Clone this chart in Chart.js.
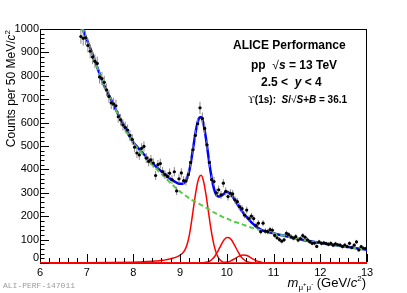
<!DOCTYPE html>
<html>
<head>
<meta charset="utf-8">
<script src="https://cdn.jsdelivr.net/npm/chart.js@4.4.0/dist/chart.umd.min.js"></script>
<style>
    html, body { margin: 0; padding: 0; background: #fff; }
    #wrap { width: 407px; height: 293px; }
</style>
</head>
<body>
<div id="wrap"><canvas id="massChart" width="407" height="293"></canvas></div>
<script>
// Dimuon invariant mass spectrum in the Upsilon region, pp at 13 TeV

// data points, 50 MeV bins
const massBins = [
    6.875, 6.925, 6.975, 7.025, 7.075, 7.125, 7.175, 7.225, 7.275, 7.325,
    7.375, 7.425, 7.475, 7.525, 7.575, 7.625, 7.675, 7.725, 7.775, 7.825,
    7.875, 7.925, 7.975, 8.025, 8.075, 8.125, 8.175, 8.225, 8.275, 8.325,
    8.375, 8.425, 8.475, 8.525, 8.575, 8.625, 8.675, 8.725, 8.775, 8.825,
    8.875, 8.925, 8.975, 9.025, 9.075, 9.125, 9.175, 9.225, 9.275, 9.325,
    9.375, 9.425, 9.475, 9.525, 9.575, 9.625, 9.675, 9.725, 9.775, 9.825,
    9.875, 9.925, 9.975, 10.025, 10.075, 10.125, 10.175, 10.225, 10.275, 10.325,
    10.375, 10.425, 10.475, 10.525, 10.575, 10.625, 10.675, 10.725, 10.775, 10.825,
    10.875, 10.925, 10.975, 11.025, 11.075, 11.125, 11.175, 11.225, 11.275, 11.325,
    11.375, 11.425, 11.475, 11.525, 11.575, 11.625, 11.675, 11.725, 11.775, 11.825,
    11.875, 11.925, 11.975, 12.025, 12.075, 12.125, 12.175, 12.225, 12.275, 12.325,
    12.375, 12.425, 12.475, 12.525, 12.575, 12.625, 12.675, 12.725, 12.775, 12.825,
    12.875, 12.925, 12.975
];
const counts = [
    968, 960, 962, 930, 905, 880, 862, 853, 795, 788,
    772, 740, 712, 684, 680, 672, 625, 612, 590, 580,
    568, 545, 528, 495, 470, 462, 490, 498, 448, 434,
    441, 427, 374, 420, 425, 391, 378, 370, 384, 356,
    390, 308, 360, 385, 352, 350, 378, 430, 484, 545,
    595, 663, 618, 575, 505, 430, 356, 348, 300, 313,
    291, 341, 306, 284, 298, 295, 270, 262, 241, 232,
    205, 226, 190, 200, 190, 160, 170, 134, 170, 136,
    134, 143, 140, 118, 108, 100, 93, 99, 127, 121,
    112, 106, 113, 98, 104, 117, 110, 99, 91, 84,
    85, 71, 90, 84, 86, 83, 80, 84, 76, 82,
    78, 76, 70, 77, 70, 84, 66, 76, 90, 56,
    70, 63, 62
];
const countErrors = [
    31, 31, 31, 30, 30, 30, 29, 29, 28, 28,
    28, 27, 27, 26, 26, 26, 25, 25, 24, 24,
    24, 23, 23, 22, 22, 21, 22, 22, 21, 21,
    21, 21, 19, 20, 21, 20, 19, 19, 20, 19,
    20, 18, 19, 20, 19, 19, 19, 21, 22, 23,
    24, 26, 25, 24, 22, 21, 19, 19, 17, 18,
    17, 18, 17, 17, 17, 17, 16, 16, 16, 15,
    14, 15, 14, 14, 14, 13, 13, 12, 13, 12,
    12, 12, 12, 11, 10, 10, 10, 10, 11, 11,
    11, 10, 11, 10, 10, 11, 10, 10, 10, 9,
    9, 8, 9, 9, 9, 9, 9, 9, 9, 9,
    9, 9, 8, 9, 8, 9, 8, 9, 9, 7,
    8, 8, 8
];

// total fit and background
const fitMass = [
    6.9, 7.0, 7.1, 7.2, 7.3, 7.4, 7.5, 7.6, 7.7, 7.8, 7.9, 8.0, 8.1, 8.2, 8.3, 8.4,
    8.5, 8.55, 8.6, 8.65, 8.7, 8.75, 8.8, 8.85, 8.9, 8.95,
    9.0, 9.05, 9.1, 9.15, 9.2, 9.25, 9.3, 9.35, 9.4, 9.45,
    9.5, 9.55, 9.6, 9.65, 9.7, 9.75, 9.8, 9.85, 9.9, 9.95,
    10.0, 10.05, 10.1, 10.15, 10.2, 10.25, 10.3, 10.35, 10.4, 10.45,
    10.5, 10.55, 10.6, 10.65, 10.7, 10.75, 10.8,
    10.9, 11.0, 11.1, 11.2, 11.3, 11.4, 11.5, 11.6, 11.7, 11.8,
    11.9, 12.0, 12.1, 12.2, 12.3, 12.4, 12.5, 12.6, 12.7, 12.8, 12.9, 13.0
];
const fitTotal = [
    1006, 956, 906, 851, 795, 747, 707, 665, 624, 586, 548, 515, 492, 470, 448, 427,
    409, 400, 391, 383, 376, 367, 358, 352, 346, 341,
    339, 339, 345, 363, 398, 455, 520, 579, 617, 624,
    595, 536, 463, 393, 338, 301, 286, 284, 290, 298,
    304, 299, 290, 275, 259, 243, 228, 215, 202, 191,
    179, 169, 160, 152, 146, 140, 137,
    131, 127, 122, 118, 113, 109, 104, 100, 96, 93,
    89, 86, 83, 80, 77, 74, 71, 68, 65, 62, 60, 57
];
const fitBackground = [
    1005, 955, 905, 850, 793, 745, 705, 663, 622, 583, 545, 512, 488, 465, 442, 420,
    400, 390, 380, 371, 362, 351, 340, 331, 322, 313,
    305, 297, 290, 283, 276, 270, 264, 259, 254, 248,
    243, 237, 231, 225, 219, 213, 208, 203, 198, 193,
    190, 185, 181, 177, 174, 171, 168, 164, 160, 157,
    153, 150, 147, 144, 141, 138, 136,
    131, 127, 122, 118, 113, 109, 104, 100, 96, 93,
    89, 86, 83, 80, 77, 74, 71, 68, 65, 62, 60, 57
];

// the three Upsilon signal shapes
const signalMass = [
    6.0, 7.0, 8.0, 8.1, 8.2, 8.3, 8.4,
    8.5, 8.55, 8.6, 8.65, 8.7, 8.75, 8.8, 8.85, 8.9, 8.95,
    9.0, 9.05, 9.1, 9.15, 9.2, 9.25, 9.3, 9.35, 9.4, 9.45,
    9.5, 9.55, 9.6, 9.65, 9.7, 9.75, 9.8, 9.85, 9.9, 9.95,
    10.0, 10.05, 10.1, 10.15, 10.2, 10.25, 10.3, 10.35, 10.4, 10.45,
    10.5, 10.55, 10.6, 10.65, 10.7, 10.75, 10.8,
    11.0, 12.0, 13.0
];
const upsilon1S = [
    0, 1, 3.5, 4, 5, 6, 7,
    9, 10, 11, 12, 14, 16, 18, 21, 24, 28,
    34, 42, 55, 80, 122, 185, 256, 320, 363, 375,
    350, 296, 227, 158, 100, 57, 30, 14, 6, 2,
    1, 0, 0, 0, 0, 0, 0, 0, 0, 0,
    0, 0, 0, 0, 0, 0, 0,
    0, 0, 0
];
const upsilon2S = [
    0, 0, 0, 0, 0, 0, 0,
    0, 0, 0, 0, 0, 0, 0, 0, 0, 0,
    0, 0, 0, 0, 0, 0, 0, 0, 0, 1,
    1.5, 3, 5, 10, 19, 31, 48, 67, 86, 101,
    109, 108, 98, 82, 63, 44, 28, 17, 9, 4.5,
    2, 1, 0.3, 0, 0, 0, 0,
    0, 0, 0
];
const upsilon3S = [
    0, 0, 0, 0, 0, 0, 0,
    0, 0, 0, 0, 0, 0, 0, 0, 0, 0,
    0, 0, 0, 0, 0, 0, 0, 0, 0, 0,
    0, 0, 0, 0, 0, 0, 0, 0, 0, 2,
    4, 6, 11, 16, 22, 28, 32, 34, 33, 30,
    24, 18, 13, 8, 5, 2.5, 1,
    0, 0, 0
];

const xTicks = [6, 7, 8, 9, 10, 11, 12, 13];
const yTicks = [0, 100, 200, 300, 400, 500, 600, 700, 800, 900, 1000];

const SANS = '"Liberation Sans", Arial, sans-serif';

function toPoints(xs, ys) {
    return xs.map((x, i) => ({ x: x, y: ys[i] }));
}

// draws a run of differently styled text pieces on one baseline
function drawRich(ctx, parts, x, y, align) {
    let total = 0;
    parts.forEach(p => {
        ctx.font = p.font;
        p.w = ctx.measureText(p.t).width;
        total += p.w;
    });
    let cx = align === 'right' ? x - total : x;
    parts.forEach(p => {
        ctx.font = p.font;
        ctx.fillText(p.t, cx, y + (p.dy || 0));
        cx += p.w;
    });
}

// ROOT-like frame, drawn under the curves
const rootFrame = {
    id: 'rootFrame',
    beforeDatasetsDraw(chart) {
        const { ctx, chartArea: a } = chart;
        ctx.save();
        ctx.strokeStyle = '#000';
        ctx.lineWidth = 1;
        ctx.strokeRect(a.left + 0.5, a.top + 0.5, a.right - a.left - 1, a.bottom - a.top);
        ctx.restore();
    },
    afterDraw(chart) {
        const { ctx, chartArea: a, scales: { x, y } } = chart;
        ctx.save();
        ctx.strokeStyle = '#000';
        ctx.lineWidth = 1;

        // inward ticks
        ctx.beginPath();
        for (let v = 0; v <= 1000; v += 20) {
            const py = Math.round(y.getPixelForValue(v)) + 0.5;
            const len = v % 100 === 0 ? 9 : 4.5;
            ctx.moveTo(a.left, py);
            ctx.lineTo(a.left + len, py);
        }
        for (let k = 0; k <= 35; k++) {
            const v = 6 + k * 0.2;
            const px = Math.round(x.getPixelForValue(v)) + 0.5;
            const len = k % 5 === 0 ? 8 : 4;
            ctx.moveTo(px, a.bottom - 1);
            ctx.lineTo(px, a.bottom - 1 - len);
        }
        ctx.stroke();

        // tick labels
        ctx.fillStyle = '#000';
        ctx.font = '11px ' + SANS;
        ctx.textAlign = 'right';
        ctx.textBaseline = 'middle';
        yTicks.forEach(v => {
            const py = y.getPixelForValue(v) - (v === 0 ? 5 : 0);
            ctx.fillText(String(v), a.left - 1, py);
        });
        ctx.textAlign = 'center';
        ctx.textBaseline = 'top';
        xTicks.forEach(v => {
            ctx.fillText(String(v), x.getPixelForValue(v), a.bottom + 4);
        });

        // axis titles
        ctx.textAlign = 'left';
        ctx.textBaseline = 'alphabetic';
        ctx.save();
        ctx.translate(15, a.top + 1);
        ctx.rotate(-Math.PI / 2);
        drawRich(ctx, [
            { t: 'Counts per 50 MeV/', font: '12px ' + SANS },
            { t: 'c', font: 'italic 12px ' + SANS },
            { t: '2', font: '8px ' + SANS, dy: -5 }
        ], 0, 0, 'right');
        ctx.restore();

        drawRich(ctx, [
            { t: 'm', font: 'italic 13px ' + SANS },
            { t: 'μ', font: '8px ' + SANS, dy: 3 },
            { t: '+', font: '6px ' + SANS, dy: -1 },
            { t: 'μ', font: '8px ' + SANS, dy: 3 },
            { t: '-', font: '6px ' + SANS, dy: -1 },
            { t: ' (GeV/', font: '13px ' + SANS },
            { t: 'c', font: 'italic 13px ' + SANS },
            { t: '2', font: '8px ' + SANS, dy: -6 },
            { t: ')', font: '13px ' + SANS }
        ], a.right - 1, 287, 'right');

        // text block
        const B12 = 'bold 12px ' + SANS;
        const BI12 = 'bold italic 12px ' + SANS;
        const B10 = 'bold 10px ' + SANS;
        const BI10 = 'bold italic 10px ' + SANS;
        drawRich(ctx, [{ t: 'ALICE Performance', font: B12 }], 233, 49);
        drawRich(ctx, [
            { t: 'pp  ', font: B12 },
            { t: '√', font: '12px ' + SANS },
            { t: 's', font: BI12 },
            { t: ' = 13 TeV', font: B12 }
        ], 251, 69);
        drawRich(ctx, [
            { t: '2.5 <  ', font: B12 },
            { t: 'y', font: BI12 },
            { t: ' < 4', font: B12 }
        ], 261, 86);
        drawRich(ctx, [
            { t: 'ϒ', font: '10px "DejaVu Serif", serif' },
            { t: '(1s):  ', font: B10 },
            { t: 'S', font: BI10 },
            { t: '/', font: B10 },
            { t: '√', font: '10px ' + SANS },
            { t: 'S', font: BI10 },
            { t: '+', font: B10 },
            { t: 'B', font: BI10 },
            { t: ' = 36.1', font: B10 }
        ], 248, 103);

        // preliminary figure id
        ctx.fillStyle = '#9a9a9a';
        ctx.font = '8px "Liberation Mono", monospace';
        ctx.fillText('ALI-PERF-147011', 3, 288);
        ctx.restore();
    }
};

// vertical statistical error bars and half-bin horizontal bars under the markers
const errorBars = {
    id: 'errorBars',
    beforeDatasetDraw(chart, args) {
        if (args.index !== 0) return;
        const { ctx, chartArea: a, scales: { x, y } } = chart;
        ctx.save();
        ctx.beginPath();
        ctx.rect(a.left, a.top, a.right - a.left, a.bottom - a.top);
        ctx.clip();
        ctx.lineWidth = 1;
        massBins.forEach((m, i) => {
            const px = x.getPixelForValue(m);
            ctx.strokeStyle = '#8a8a8a';
            ctx.beginPath();
            ctx.moveTo(px, y.getPixelForValue(counts[i] + countErrors[i]));
            ctx.lineTo(px, y.getPixelForValue(counts[i] - countErrors[i]));
            ctx.stroke();
            const py = y.getPixelForValue(counts[i]);
            ctx.strokeStyle = '#000';
            ctx.beginPath();
            ctx.moveTo(x.getPixelForValue(m - 0.025), py);
            ctx.lineTo(x.getPixelForValue(m + 0.025), py);
            ctx.stroke();
        });
        ctx.restore();
    }
};

const curve = (label, xs, ys, color, width, extra) => Object.assign({
    label: label,
    data: toPoints(xs, ys),
    showLine: true,
    borderColor: color,
    borderWidth: width,
    pointRadius: 0,
    pointHoverRadius: 0,
    cubicInterpolationMode: 'monotone',
    clip: 0
}, extra || {});

const redClip = { left: 0, top: 0, right: 0, bottom: 2 };

new Chart(document.getElementById('massChart'), {
    type: 'scatter',
    data: {
        datasets: [
            {
                label: 'Data',
                data: toPoints(massBins, counts),
                pointRadius: 1.6,
                pointHoverRadius: 1.6,
                pointBackgroundColor: '#000',
                pointBorderWidth: 0,
                showLine: false
            },
            curve('Background', fitMass, fitBackground, '#55cc44', 2, { borderDash: [5, 3] }),
            curve('Total fit', fitMass, fitTotal, '#0000ff', 2.5),
            curve('Υ(1S)', signalMass, upsilon1S, '#ff0000', 1.5, { clip: redClip }),
            curve('Υ(2S)', signalMass, upsilon2S, '#ff0000', 1.5, { clip: redClip }),
            curve('Υ(3S)', signalMass, upsilon3S, '#ff0000', 1.5, { clip: redClip })
        ]
    },
    options: {
        responsive: false,
        animation: false,
        devicePixelRatio: 1,
        layout: { padding: { top: 29, right: 40, left: 0, bottom: 0 } },
        plugins: {
            legend: { display: false },
            tooltip: { enabled: false }
        },
        scales: {
            x: {
                type: 'linear',
                min: 6,
                max: 13,
                ticks: { display: false, stepSize: 1 },
                grid: { display: false },
                border: { display: false },
                afterFit(scale) { scale.height = 30; }
            },
            y: {
                type: 'linear',
                min: 0,
                max: 1000,
                ticks: { display: false, stepSize: 100 },
                grid: { display: false },
                border: { display: false },
                afterFit(scale) { scale.width = 40; }
            }
        }
    },
    plugins: [rootFrame, errorBars]
});
</script>
</body>
</html>
